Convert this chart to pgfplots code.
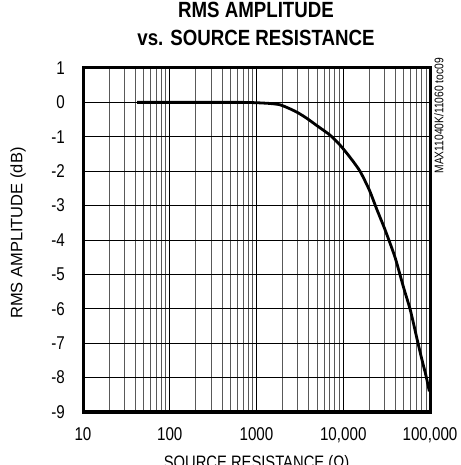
\documentclass[border=0pt]{standalone}
\usepackage{fontspec}
\setmainfont{Liberation Sans}
\newfontfamily\condfont[FakeStretch=0.82]{Liberation Sans}
\newfontfamily\titlefont[FakeStretch=0.85]{Liberation Sans}
\usepackage{pgfplots}
\pgfplotsset{compat=1.18}

\pgfplotstableread{
R dB
42 0
100 0
300 0
700 0
1000 -0.01
1400 -0.03
1870 -0.07
2500 -0.2
3000 -0.3
3790 -0.46
5000 -0.68
7030 -0.95
9180 -1.24
12000 -1.6
15600 -2.0
20000 -2.55
24300 -3.1
30300 -3.7
39500 -4.5
49200 -5.35
58800 -6.0
64200 -6.4
72000 -6.95
80200 -7.45
90000 -7.95
98200 -8.4
}\curve

\begin{document}
\begin{tikzpicture}
\useasboundingbox (0,0) rectangle (461bp,465bp);
% title
\node[anchor=base, inner sep=0pt, font=\titlefont\bfseries\fontsize{22bp}{24bp}\selectfont] at (256bp,447bp) {RMS AMPLITUDE};
\node[anchor=base, inner sep=0pt, font=\titlefont\bfseries\fontsize{22bp}{24bp}\selectfont] at (256bp,419bp) {vs. SOURCE RESISTANCE};
\begin{axis}[
  at={(83bp,53bp)}, anchor=south west,
  scale only axis, width=347bp, height=344bp,
  xmode=log, log basis x=10,
  xmin=10, xmax=100000, ymin=-9, ymax=1,
  xtick={10,100,1000,10000,100000},
  xticklabels={10,100,1000,{10,000},{100,000}},
  minor xtick={20,30,40,50,60,70,80,90,200,300,400,500,600,700,800,900,
    2000,3000,4000,5000,6000,7000,8000,9000,20000,30000,40000,50000,60000,70000,80000,90000},
  ytick={-9,-8,-7,-6,-5,-4,-3,-2,-1,0,1},
  yticklabels={-9,-8,-7,-6,-5,-4,-3,-2,-1,0,1},
  xmajorgrids, xminorgrids, ymajorgrids,
  major grid style={black, line width=0.9bp},
  minor grid style={black!65, line width=0.9bp},
  major tick length=0pt, minor tick length=0pt,
  axis line style={line width=3bp},
  tick label style={font=\condfont\fontsize{18.5bp}{20bp}\selectfont, inner sep=0pt},
  xticklabel style={yshift=-15bp},
  yticklabel style={xshift=-18bp},
  xlabel={SOURCE RESISTANCE (Ω)},
  xlabel style={font=\condfont\fontsize{18bp}{20bp}\selectfont, inner sep=0pt, anchor=north, at={(axis description cs:0.5,0)}, yshift=-43bp},
  ylabel={RMS AMPLITUDE (dB)},
  ylabel style={font=\fontsize{16.5bp}{18bp}\selectfont, inner sep=0pt, anchor=center, at={(axis description cs:-0.187,0.52)}},
]
\addplot[black, line width=2.8bp, smooth, tension=0.4] table[x=R, y=dB] {\curve};
\end{axis}
\node[rotate=90, anchor=east, inner sep=0pt, font=\condfont\fontsize{12.5bp}{14bp}\selectfont] at (439bp,407bp) {MAX11040K/11060 toc09};
\end{tikzpicture}
\end{document}
